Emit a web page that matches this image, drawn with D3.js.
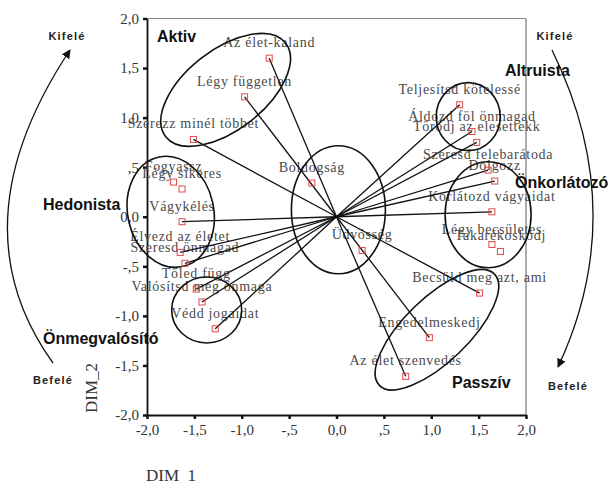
<!DOCTYPE html>
<html>
<head>
<meta charset="utf-8">
<script src="https://cdn.jsdelivr.net/npm/d3@7"></script>
<style>
  body { margin: 0; background: #fff; }
  svg { display: block; }
  .lbl { font-family: "Liberation Serif", "Times New Roman", serif; font-size: 14px; fill: #4a4a4a; letter-spacing: 0.7px; }
  .tick text { font-family: "Liberation Serif", "Times New Roman", serif; font-size: 15px; fill: #333; }
  .group { font-family: "Liberation Sans", Arial, sans-serif; font-size: 16px; font-weight: bold; fill: #111; }
  .dir { font-family: "Liberation Sans", Arial, sans-serif; font-size: 11px; font-weight: bold; fill: #222; letter-spacing: 1.2px; }
  .title { font-family: "Liberation Serif", "Times New Roman", serif; font-size: 17px; fill: #333; }
</style>
</head>
<body>
<svg width="611" height="482"></svg>
<script>
//  values
var names = ["Az élet-kaland", "Légy független", "Szerezz minél többet", "Boldogság",
  "Teljesítsd kötelessé", "Áldozd föl önmagad", "Törődj az elesettekk", "Szeresd felebarátoda",
  "Dolgozz", "Korlátozd vágyaidat", "Légy becsületes", "Takarékoskodj", "Üdvösség",
  "Becsüld meg azt, ami", "Engedelmeskedj", "Az élet szenvedés", "Fogyassz", "Légy sikeres",
  "Vágykélés", "Élvezd az életet", "Szeresd önmagad", "Tőled függ", "Valósítsd meg önmaga", "Védd jogaidat"];
var dim1 = [-0.71, -0.97, -1.51, -0.26, 1.30, 1.43, 1.48, 1.60, 1.67, 1.64, 1.64, 1.73, 0.27,
  1.51, 0.98, 0.73, -1.72, -1.63, -1.63, -1.65, -1.60, -1.48, -1.42, -1.28];
var dim2 = [1.60, 1.21, 0.78, 0.34, 1.13, 0.86, 0.75, 0.47, 0.36, 0.05, -0.28, -0.35, -0.34,
  -0.77, -1.22, -1.61, 0.35, 0.28, -0.05, -0.36, -0.47, -0.73, -0.86, -1.13];
//  which points are joined to the origin
var joined = [1, 1, 1, 0, 1, 1, 1, 1, 1, 1, 0, 0, 0, 1, 1, 1, 0, 0, 1, 1, 1, 1, 1, 1];

var tickValues = [-2, -1.5, -1, -0.5, 0, 0.5, 1, 1.5, 2];
var tickLabels = ["-2,0", "-1,5", "-1,0", "-,5", "0,0", ",5", "1,0", "1,5", "2,0"];

//  group ellipses (centre in data units, radii in px)
var groups = [
  { cx: -1.17, cy: 1.28, rx: 76, ry: 40, rot: -38 },
  { cx: 0.02, cy: 0.07, rx: 47, ry: 64, rot: 0 },
  { cx: 1.39, cy: 1.01, rx: 32, ry: 34, rot: 0 },
  { cx: 1.60, cy: 0.02, rx: 43, ry: 53, rot: 0 },
  { cx: -1.75, cy: 0.05, rx: 43, ry: 56, rot: -12 },
  { cx: -1.37, cy: -0.94, rx: 35, ry: 33, rot: 0 },
  { cx: 1.06, cy: -1.14, rx: 80, ry: 32, rot: -44 }
];

var svg = d3.select("svg");
var x = d3.scaleLinear().domain([-2, 2]).range([147, 526]);
var y = d3.scaleLinear().domain([-2, 2]).range([415, 18.5]);

//  frame
svg.append("line").attr("x1", x(-2)).attr("x2", x(2)).attr("y1", y(2)).attr("y2", y(2))
  .attr("stroke", "#888").attr("stroke-width", 1.2);
svg.append("line").attr("x1", x(2)).attr("x2", x(2)).attr("y1", y(2)).attr("y2", y(-2))
  .attr("stroke", "#777").attr("stroke-width", 1.2);

var fmt = function(d) { return tickLabels[tickValues.indexOf(d)]; };

var yAxis = svg.append("g").attr("transform", "translate(" + x(-2) + ",0)")
  .call(d3.axisLeft(y).tickValues(tickValues).tickFormat(fmt).tickSizeInner(4).tickSizeOuter(0).tickPadding(4));
var xAxis = svg.append("g").attr("transform", "translate(0," + y(-2) + ")")
  .call(d3.axisBottom(x).tickValues(tickValues).tickFormat(fmt).tickSizeInner(4).tickSizeOuter(0).tickPadding(5));
[xAxis, yAxis].forEach(function(a) {
  a.select(".domain").attr("stroke", "#111").attr("stroke-width", 1.8);
  a.selectAll(".tick line").attr("stroke", "#111").attr("stroke-width", 2.5);
  a.selectAll(".tick text").attr("font-family", null).attr("font-size", null);
});

var idx = d3.range(names.length);

//  point labels (under the lines, as in the original)
svg.append("g").selectAll("text").data(idx)
  .enter().append("text")
    .attr("class", "lbl")
    .attr("text-anchor", "middle")
    .attr("x", function(i) { return x(dim1[i]); })
    .attr("y", function(i) { return y(dim2[i]) - 11; })
    .text(function(i) { return names[i]; });

//  spokes from the origin
svg.append("g").selectAll("line").data(idx.filter(function(i) { return joined[i]; }))
  .enter().append("line")
    .attr("x1", x(0)).attr("y1", y(0))
    .attr("x2", function(i) { return x(dim1[i]); })
    .attr("y2", function(i) { return y(dim2[i]); })
    .attr("stroke", "#111").attr("stroke-width", 1.3);

//  ellipses
svg.append("g").selectAll("ellipse").data(groups)
  .enter().append("ellipse")
    .attr("transform", function(d) { return "translate(" + x(d.cx) + "," + y(d.cy) + ") rotate(" + d.rot + ")"; })
    .attr("rx", function(d) { return d.rx; })
    .attr("ry", function(d) { return d.ry; })
    .attr("fill", "none").attr("stroke", "#111").attr("stroke-width", 1.6);

//  points
svg.append("g").selectAll("rect").data(idx)
  .enter().append("rect")
    .attr("x", function(i) { return x(dim1[i]) - 3; })
    .attr("y", function(i) { return y(dim2[i]) - 3; })
    .attr("width", 6).attr("height", 6)
    .attr("fill", "none").attr("stroke", "#dd4a4a").attr("stroke-width", 1);

//  curved direction arrows
svg.append("defs").append("marker")
  .attr("id", "arrow").attr("viewBox", "0 0 10 10").attr("refX", 9).attr("refY", 5)
  .attr("markerWidth", 9).attr("markerHeight", 9).attr("markerUnits", "userSpaceOnUse")
  .attr("orient", "auto")
  .append("path").attr("d", "M0,0L10,5L0,10z").attr("fill", "#111");
svg.append("path").attr("d", "M53,363 Q-46,225 70,50")
  .attr("fill", "none").attr("stroke", "#111").attr("stroke-width", 1.3).attr("marker-end", "url(#arrow)");
svg.append("path").attr("d", "M552,50 Q631,211 558,367")
  .attr("fill", "none").attr("stroke", "#111").attr("stroke-width", 1.3).attr("marker-end", "url(#arrow)");

//  group names
var groupText = [["Aktiv", 157, 42], ["Altruista", 505, 76], ["Önkorlátozó", 515, 188],
  ["Hedonista", 43, 210], ["Önmegvalósító", 43, 344], ["Passzív", 452, 388]];
svg.append("g").selectAll("text").data(groupText)
  .enter().append("text").attr("class", "group")
    .attr("x", function(d) { return d[1]; }).attr("y", function(d) { return d[2]; })
    .text(function(d) { return d[0]; });

var dirText = [["Kifelé", 67, 40], ["Kifelé", 555, 40], ["Befelé", 53, 384], ["Befelé", 568, 390]];
svg.append("g").selectAll("text").data(dirText)
  .enter().append("text").attr("class", "dir").attr("text-anchor", "middle")
    .attr("x", function(d) { return d[1]; }).attr("y", function(d) { return d[2]; })
    .text(function(d) { return d[0]; });

//  axis titles
svg.append("text").attr("class", "title").attr("x", 146).attr("y", 481).text("DIM_1");
svg.append("text").attr("class", "title").attr("text-anchor", "middle")
  .attr("transform", "translate(97,388) rotate(-90)").text("DIM_2");
</script>
</body>
</html>
